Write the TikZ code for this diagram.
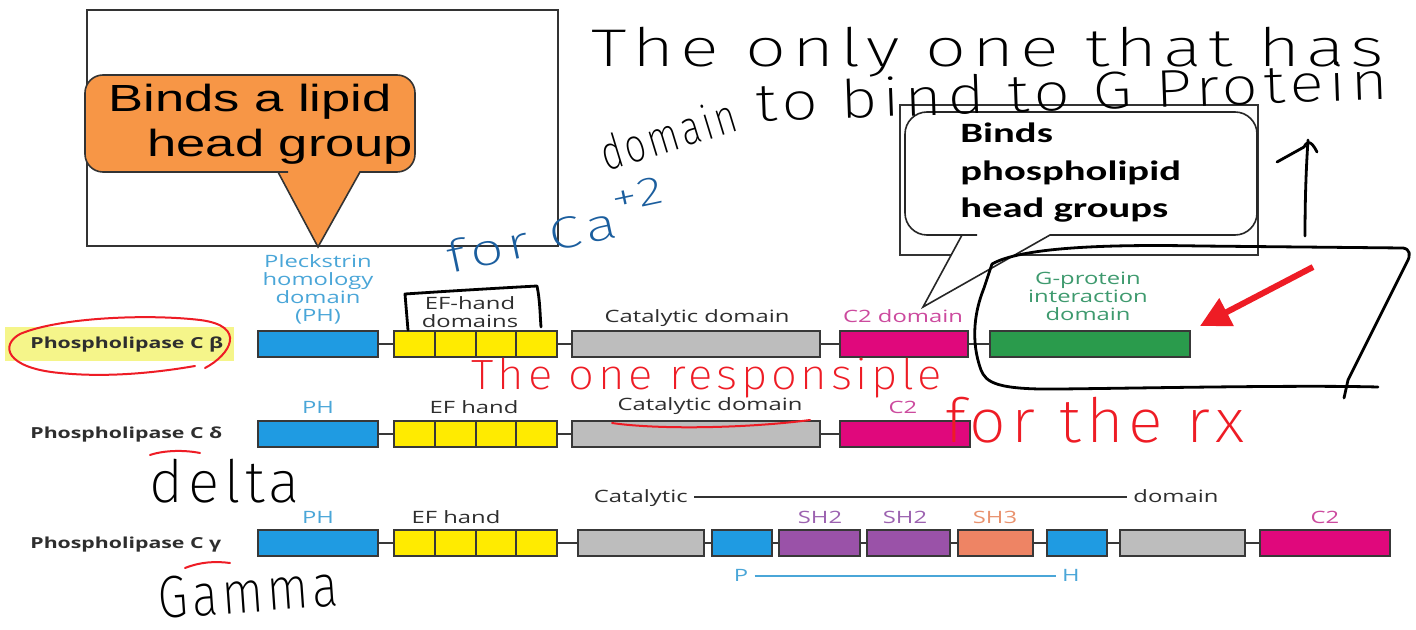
\documentclass[tikz,border=0pt]{standalone}
\usepackage{fontspec}
\usepackage{graphicx}
\usetikzlibrary{arrows.meta}
\newfontfamily\diag[FakeStretch=1.4]{Open Sans}
\newfontfamily\bubA[FakeStretch=1.39]{Liberation Sans}
\newfontfamily\bubB[FakeStretch=1.45]{Carlito}
\newfontfamily\hand[LetterSpace=8]{Fira Sans ExtraLight}
\newcommand\scribble[3]{\resizebox*{#1}{#2}{\hand #3}}
\definecolor{phblue}{HTML}{1F9BE2}
\definecolor{efyel}{HTML}{FFEB00}
\definecolor{catgray}{HTML}{BDBDBD}
\definecolor{ctwo}{HTML}{E0087C}
\definecolor{gprot}{HTML}{2A9B4C}
\definecolor{shtwo}{HTML}{9A52A8}
\definecolor{shthree}{HTML}{EE8464}
\definecolor{lblblue}{HTML}{4AA6D8}
\definecolor{lblpink}{HTML}{CC4A9E}
\definecolor{lblgreen}{HTML}{3E9A6E}
\definecolor{lblpurple}{HTML}{9C62B0}
\definecolor{lblsalmon}{HTML}{E9926E}
\definecolor{lblgray}{HTML}{2E2E2E}
\definecolor{bubble}{HTML}{F79646}
\definecolor{inkred}{HTML}{EE1C25}
\definecolor{inkblue}{HTML}{1B5E9E}
\definecolor{hilite}{HTML}{F5F58A}
\definecolor{rowtext}{HTML}{2E2E2E}
\begin{document}
\begin{tikzpicture}[x=0.5pt,y=-0.5pt,
  dom/.style={draw=black!78, line width=1pt, inner sep=0pt, minimum height=13pt},
  link/.style={draw=black!78, line width=1pt},
  lbl/.style={font=\diag\fontsize{8.5}{9}\selectfont, inner sep=0pt, align=center},
  rowlbl/.style={font=\diag\bfseries\fontsize{7.6}{9}\selectfont, text=rowtext, inner sep=0pt, anchor=base west},
  ink/.style={line width=1.4pt, line cap=round, line join=round},
  redink/.style={draw=inkred, line width=1pt, line cap=round, line join=round},
  frame/.style={draw=black!80, line width=0.7pt},
  hw/.style={inner sep=0pt}]
\useasboundingbox (0,0) rectangle (1416,630);
\fill[white] (0,0) rectangle (1416,630);

% ---- callout frames ----
\draw[frame] (87,10) rectangle (558,246);
\draw[frame] (900,105) rectangle (1258,255);

% orange speech bubble
\filldraw[fill=bubble, draw=black!80, line width=0.8pt]
  (318,247) -- (360,172) -- (370,172) [rounded corners=9pt] -- (415,172) -- (415,75) -- (85,75)
  -- (85,172) -- (270,172) [sharp corners] -- (278,172) -- cycle;
\node[inner sep=0pt, anchor=base west, font=\bubA\fontsize{18.9}{20}\selectfont] (bubA1) at (108,112) {Binds a lipid};
\node[inner sep=0pt, anchor=base west, font=\bubA\fontsize{18.9}{20}\selectfont] (bubA2) at (147,157) {head group};

% white speech bubble
\filldraw[fill=white, draw=black!85, line width=0.8pt]
  (923,307) -- (1050,235) -- (1060,235) [rounded corners=11pt] -- (1257,235) -- (1257,112) -- (905,112)
  -- (905,235) -- (955,235) [sharp corners] -- (962,235) -- cycle;
\node[inner sep=0pt, anchor=base west, font=\bubB\bfseries\fontsize{14}{15}\selectfont] (bubB1) at (960,143) {Binds};
\node[inner sep=0pt, anchor=base west, font=\bubB\bfseries\fontsize{14}{15}\selectfont] (bubB2) at (960,181) {phospholipid};
\node[inner sep=0pt, anchor=base west, font=\bubB\bfseries\fontsize{14}{15}\selectfont] (bubB3) at (960,218) {head groups};

% ---- row labels ----
\fill[hilite] (5,327) rectangle (234,361);
\node[rowlbl] (rowB) at (30,348) {Phospholipase C β};
\node[rowlbl] (rowD) at (30,438) {Phospholipase C δ};
\node[rowlbl] (rowG) at (30,548) {Phospholipase C γ};

% ---- PLC beta ----
\node[lbl, text=lblblue, anchor=north] (tPHb) at (318,254) {Pleckstrin\\homology\\domain\\(PH)};
\node[lbl, text=lblgray, anchor=north] (tEFb) at (470,296) {EF-hand\\domains};
\node[lbl, text=lblgray, anchor=base] (tCatb) at (697,322) {Catalytic domain};
\node[lbl, text=lblpink, anchor=base] (tC2b) at (903,322) {C2 domain};
\node[lbl, text=lblgreen, anchor=north] (tGb) at (1088,272) {G-protein\\interaction\\domain};

\node[dom, fill=phblue, minimum width=60pt] (bPH) at (318,344) {};
\node[dom, fill=efyel, minimum width=20.375pt] (bEFa) at (414.375,344) {};
\node[dom, fill=efyel, minimum width=20.375pt] (bEFb) at (455.125,344) {};
\node[dom, fill=efyel, minimum width=20.375pt] (bEFc) at (495.875,344) {};
\node[dom, fill=efyel, minimum width=20.375pt] (bEFd) at (536.625,344) {};
\node[dom, fill=catgray, minimum width=124pt] (bCat) at (696,344) {};
\node[dom, fill=ctwo, minimum width=64pt] (bC2) at (904,344) {};
\node[dom, fill=gprot, minimum width=100pt] (bG) at (1090,344) {};
\draw[link] (bPH.east) -- (bEFa.west);
\draw[link] (bEFd.east) -- (bCat.west);
\draw[link] (bCat.east) -- (bC2.west);
\draw[link] (bC2.east) -- (bG.west);

% ---- PLC delta ----
\node[lbl, text=lblblue, anchor=base] (tPHd) at (318,413) {PH};
\node[lbl, text=lblgray, anchor=base] (tEFd) at (474,413) {EF hand};
\node[lbl, text=lblgray, anchor=base] (tCatd) at (710,410) {Catalytic domain};
\node[lbl, text=lblpink, anchor=base] (tC2d) at (903,413) {C2};

\node[dom, fill=phblue, minimum width=60pt] (dPH) at (318,434) {};
\node[dom, fill=efyel, minimum width=20.375pt] (dEFa) at (414.375,434) {};
\node[dom, fill=efyel, minimum width=20.375pt] (dEFb) at (455.125,434) {};
\node[dom, fill=efyel, minimum width=20.375pt] (dEFc) at (495.875,434) {};
\node[dom, fill=efyel, minimum width=20.375pt] (dEFd) at (536.625,434) {};
\node[dom, fill=catgray, minimum width=124pt] (dCat) at (696,434) {};
\node[dom, fill=ctwo, minimum width=65pt] (dC2) at (905,434) {};
\draw[link] (dPH.east) -- (dEFa.west);
\draw[link] (dEFd.east) -- (dCat.west);
\draw[link] (dCat.east) -- (dC2.west);

% ---- PLC gamma ----
\node[lbl, text=lblgray, anchor=base east] (tCatg) at (688,502) {Catalytic};
\node[lbl, text=lblgray, anchor=base west] (tDomg) at (1133,502) {domain};
\draw[black!80, line width=0.6pt] ([shift={(6,-5)}]tCatg.base east) -- ([shift={(-6,-5)}]tDomg.base west);
\node[lbl, text=lblblue, anchor=base] (tPHg) at (318,523) {PH};
\node[lbl, text=lblgray, anchor=base] (tEFg) at (456,523) {EF hand};
\node[lbl, text=lblpurple, anchor=base] (tSHa) at (820,523) {SH2};
\node[lbl, text=lblpurple, anchor=base] (tSHb) at (905,523) {SH2};
\node[lbl, text=lblsalmon, anchor=base] (tSHc) at (995,523) {SH3};
\node[lbl, text=lblpink, anchor=base] (tC2g) at (1325,523) {C2};

\node[dom, fill=phblue, minimum width=60pt] (gPH) at (318,543) {};
\node[dom, fill=efyel, minimum width=20.375pt] (gEFa) at (414.375,543) {};
\node[dom, fill=efyel, minimum width=20.375pt] (gEFb) at (455.125,543) {};
\node[dom, fill=efyel, minimum width=20.375pt] (gEFc) at (495.875,543) {};
\node[dom, fill=efyel, minimum width=20.375pt] (gEFd) at (536.625,543) {};
\node[dom, fill=catgray, minimum width=63pt] (gCatA) at (641,543) {};
\node[dom, fill=phblue, minimum width=30pt] (gPa) at (742,543) {};
\node[dom, fill=shtwo, minimum width=40.5pt] (gSHa) at (819.5,543) {};
\node[dom, fill=shtwo, minimum width=41.5pt] (gSHb) at (908.5,543) {};
\node[dom, fill=shthree, minimum width=37.5pt] (gSHc) at (995.5,543) {};
\node[dom, fill=phblue, minimum width=30pt] (gPb) at (1077,543) {};
\node[dom, fill=catgray, minimum width=62.5pt] (gCatB) at (1182.5,543) {};
\node[dom, fill=ctwo, minimum width=65pt] (gC2) at (1325,543) {};
\draw[link] (gPH.east) -- (gEFa.west);
\draw[link] (gEFd.east) -- (gCatA.west);
\draw[link] (gCatA.east) -- (gPa.west);
\draw[link] (gPa.east) -- (gSHa.west);
\draw[link] (gSHa.east) -- (gSHb.west);
\draw[link] (gSHb.east) -- (gSHc.west);
\draw[link] (gSHc.east) -- (gPb.west);
\draw[link] (gPb.east) -- (gCatB.west);
\draw[link] (gCatB.east) -- (gC2.west);

\node[lbl, text=lblblue, anchor=base] (tP) at (741,581) {P};
\node[lbl, text=lblblue, anchor=base] (tH) at (1071,581) {H};
\draw[lblblue, line width=0.6pt] ([shift={(6,-5)}]tP.base east) -- ([shift={(-6,-5)}]tH.base west);

% ---- pen annotations ----
\node[hw] (nOnly) at (988,52) {\scribble{396pt}{25pt}{The only one that has}};
\node[hw, rotate=17] (nDom) at (668,134) {\scribble{70pt}{18pt}{domain}};
\node[hw, rotate=2] (nBind) at (1072,91) {\scribble{316pt}{20pt}{to bind to G Protein}};
\node[hw, rotate=12, text=inkblue] (nCa) at (555,225) {\scribble{112pt}{26pt}{for Ca\raisebox{0.55em}{\small +2}}};
\node[hw, text=inkred] (nResp) at (707,378) {\scribble{235pt}{20pt}{The one responsiple}};
\node[hw, text=inkred] (nRx) at (1095,420) {\scribble{150pt}{23pt}{for the rx}};
\node[hw] (nDelta) at (225,481) {\scribble{75pt}{22pt}{delta}};
\node[hw, rotate=4] (nGamma) at (248,592) {\scribble{90pt}{21pt}{Gamma}};

% box drawn round the EF-hand label
\draw[ink] (408,330) -- (405,294) .. controls (450,291) and (500,288) .. (537,286)
  .. controls (540,300) and (540,315) .. (541,327);

% loop round the G-protein domain
\draw[ink] (992,264) .. controls (1020,248) and (1100,244) .. (1200,246) -- (1403,248)
  .. controls (1410,249) and (1411,255) .. (1407,262) -- (1348,380) -- (1344,398);
\draw[ink] (1378,387) .. controls (1300,385) and (1150,388) .. (1060,389)
  .. controls (995,390) and (986,382) .. (981,370) .. controls (970,340) and (975,310) .. (984,288) -- (992,264);

% upward pen arrow
\draw[ink] (1305,236) .. controls (1305,200) and (1306,170) .. (1308,140);
\draw[ink] (1277,162) -- (1304,147) .. controls (1307,141) and (1311,140) .. (1317,152);

% red arrow to the G-protein domain
\coordinate (redTail) at (1313,267);
\coordinate (redTip) at (1200,326);
\draw[inkred, line width=3pt, -{Triangle[length=15pt,width=15pt]}] (redTail) -- (redTip);

% red ring and underlines
\draw[redink] (205,368) .. controls (230,355) and (248,326) .. (200,320)
  .. controls (150,314) and (60,317) .. (20,334) .. controls (0,345) and (5,368) .. (60,373)
  .. controls (110,378) and (160,372) .. (195,366);
\draw[redink] (612,423) .. controls (660,430) and (750,428) .. (810,420);
\draw[redink] (150,455) .. controls (165,450) and (185,450) .. (200,453);
\draw[redink] (185,568) .. controls (200,562) and (215,561) .. (230,563);
\end{tikzpicture}
\end{document}
